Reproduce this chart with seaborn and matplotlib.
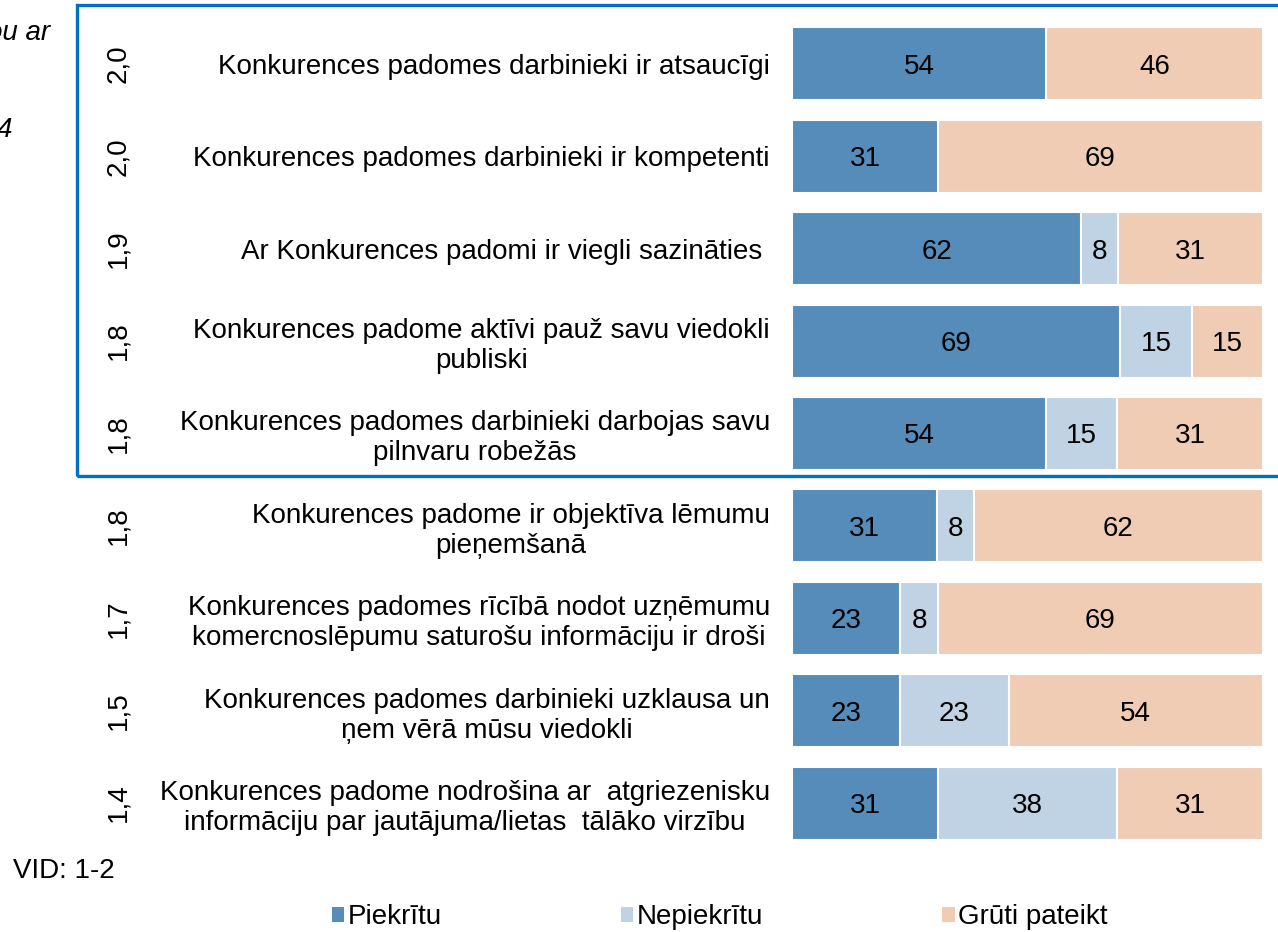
import numpy as np
import pandas as pd
import matplotlib
matplotlib.use('Agg')
import matplotlib.pyplot as plt
import matplotlib.transforms as mtrans
from matplotlib.patches import Rectangle, Patch
import seaborn as sns

# data
labels = [
    'Konkurences padomes darbinieki ir atsaucīgi',
    'Konkurences padomes darbinieki ir kompetenti',
    'Ar Konkurences padomi ir viegli sazināties ',
    'Konkurences padome aktīvi pauž savu viedokli\npubliski',
    'Konkurences padomes darbinieki darbojas savu\npilnvaru robežās',
    'Konkurences padome ir objektīva lēmumu\npieņemšanā',
    'Konkurences padomes rīcībā nodot uzņēmumu\nkomercnoslēpumu saturošu informāciju ir droši',
    'Konkurences padomes darbinieki uzklausa un\nņem vērā mūsu viedokli',
    'Konkurences padome nodrošina ar  atgriezenisku\ninformāciju par jautājuma/lietas  tālāko virzību',
]
scores = ['2,0', '2,0', '1,9', '1,8', '1,8', '1,8', '1,7', '1,5', '1,4']
piekritu = [54, 31, 62, 69, 54, 31, 23, 23, 31]
nepiekritu = [0, 0, 8, 15, 15, 8, 8, 23, 38]
gruti = [46, 69, 31, 15, 31, 62, 69, 54, 31]

series = ['Piekrītu', 'Nepiekrītu', 'Grūti pateikt']
colors = ['#568CBA', '#C0D3E4', '#F0CCB4']
FS = 20

sns.set_style('white')
plt.rcParams['font.family'] = ['Liberation Sans', 'DejaVu Sans']
plt.rcParams['text.color'] = 'black'
plt.rcParams['ytick.color'] = 'black'

df = pd.DataFrame({'label': labels, 'Piekrītu': piekritu,
                   'Nepiekrītu': nepiekritu, 'Grūti pateikt': gruti})
tot = df[series].sum(axis=1)
# shares scaled so each bar fills 100 %
shares = df[series].div(tot, axis=0) * 100
cum = shares.cumsum(axis=1)
for s in series:
    df['cum_' + s] = cum[s]

fig = plt.figure(figsize=(12.78, 9.32), dpi=100)
ax = fig.add_axes([792/1278, 1 - 849.2/932, 471/1278, (849.2 - 17.8)/932])

# stacked bars drawn back to front
for s, c in reversed(list(zip(series, colors))):
    sns.barplot(data=df, x='cum_' + s, y='label', color=c, saturation=1,
                width=0.79, edgecolor='white', linewidth=1.5, ax=ax, orient='h')

# values inside segments
for i in range(len(df)):
    start = 0
    for s in series:
        w = shares.loc[i, s]
        v = df.loc[i, s]
        if v > 0:
            ax.text(start + w/2, i, str(v), ha='center', va='center_baseline',
                    fontsize=FS, color='black')
        start += w

ax.set_xlim(0, 100)
ax.set_xlabel('')
ax.set_ylabel('')
ax.set_xticks([])
ax.tick_params(axis='y', length=0, pad=16, labelsize=FS, labelcolor='black')
for t in ax.get_yticklabels():
    t.set_multialignment('center')
for sp in ax.spines.values():
    sp.set_visible(False)

# mean scores, rotated, on the left
tr = mtrans.blended_transform_factory(fig.transFigure, ax.transData)
for i, sc in enumerate(scores):
    fig.text(118/1278, i, sc, transform=tr, rotation=90, ha='center',
             va='center', fontsize=FS)

# blue frame round the top five rows
fig.add_artist(Rectangle((77/1278, 1 - 476/932), 1.0, (476 - 5)/932,
                         transform=fig.transFigure, fill=False,
                         edgecolor='#0070C0', linewidth=2.4, clip_on=False))

# cut off bits of neighbouring text (cut in the original too)
fig.text(50/1278, 1 - 33/932, 'ou ar', ha='right', va='center',
         style='italic', fontsize=FS)
fig.text(12/1278, 1 - 130/932, '4', ha='right', va='center',
         style='italic', fontsize=FS)

fig.text(13/1278, 1 - 871/932, 'VID: 1-2', ha='left', va='center', fontsize=FS)

handles = [Patch(facecolor=c, edgecolor='none', label=s) for s, c in zip(series, colors)]
fig.legend(handles=handles, loc='center', bbox_to_anchor=(719.5/1278, 1 - 917/932),
           ncol=3, frameon=False, fontsize=FS, handlelength=0.45,
           handleheight=0.45, handletextpad=0.12, columnspacing=6.45)

fig.savefig('out.png', dpi=100)
